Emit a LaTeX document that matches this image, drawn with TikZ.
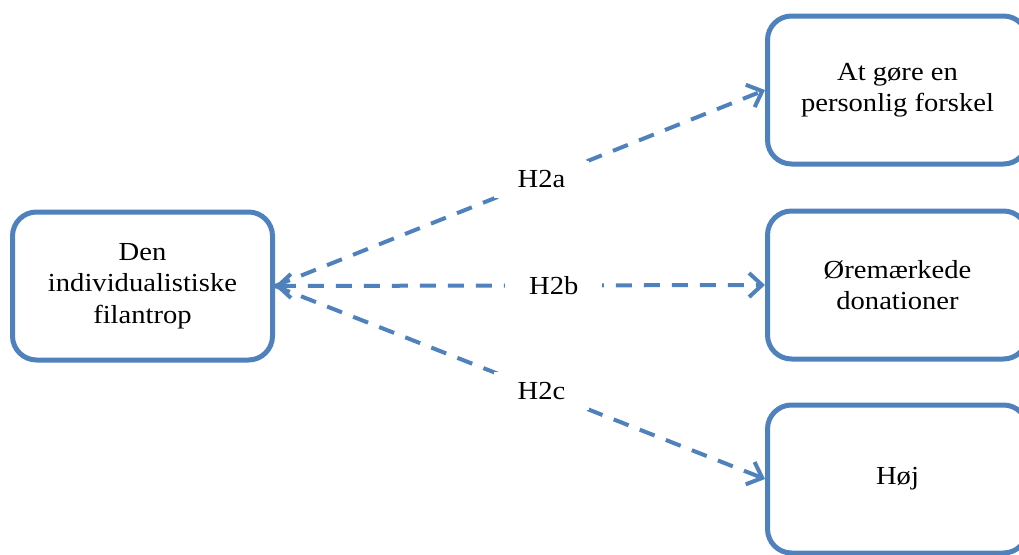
\documentclass[tikz,border=0pt]{standalone}
\usepackage{fontspec}
\newfontfamily\cam[FakeStretch=1.1]{Liberation Serif}
\usetikzlibrary{arrows.meta}
\definecolor{myblue}{HTML}{4F81BD}
\tikzset{
  txt/.style={font=\cam\fontsize{26}{31.5}\selectfont},
  box/.style={txt, draw=myblue, line width=5pt, rounded corners=24pt, minimum width=260pt, minimum height=148pt, align=center, inner sep=0pt},
  link/.style={draw=myblue, line width=4pt, dash pattern=on 16pt off 12pt},
  tip/.style={-{Straight Barb[length=13pt,width=24pt]}},
  biti/.style={{Straight Barb[length=13pt,width=24pt]}-{Straight Barb[length=13pt,width=24pt]}},
  lab/.style={txt, fill=white, inner xsep=24pt, inner ysep=10pt}
}
\begin{document}
\begin{tikzpicture}[x=1pt,y=1pt]
\useasboundingbox (0,0) rectangle (1019,-554);
\node[box] (L) at (142.5,-286) {Den\\individualistiske\\filantrop};
\node[box] (T) at (897.5,-90) {At gøre en\\personlig forskel};
\node[box] (M) at (897.5,-285) {Øremærkede\\donationer};
\node[box] (B) at (897.5,-479) {Høj};
\draw[link,tip] (L.east) -- node[lab,pos=0.544] (la) {H2a} (T.west);
\draw[link,biti] (L.east) -- node[lab,pos=0.569] (lb) {H2b} (M.west);
\draw[link,tip] (L.east) -- node[lab,pos=0.544] (lc) {H2c} (B.west);
\end{tikzpicture}
\end{document}
